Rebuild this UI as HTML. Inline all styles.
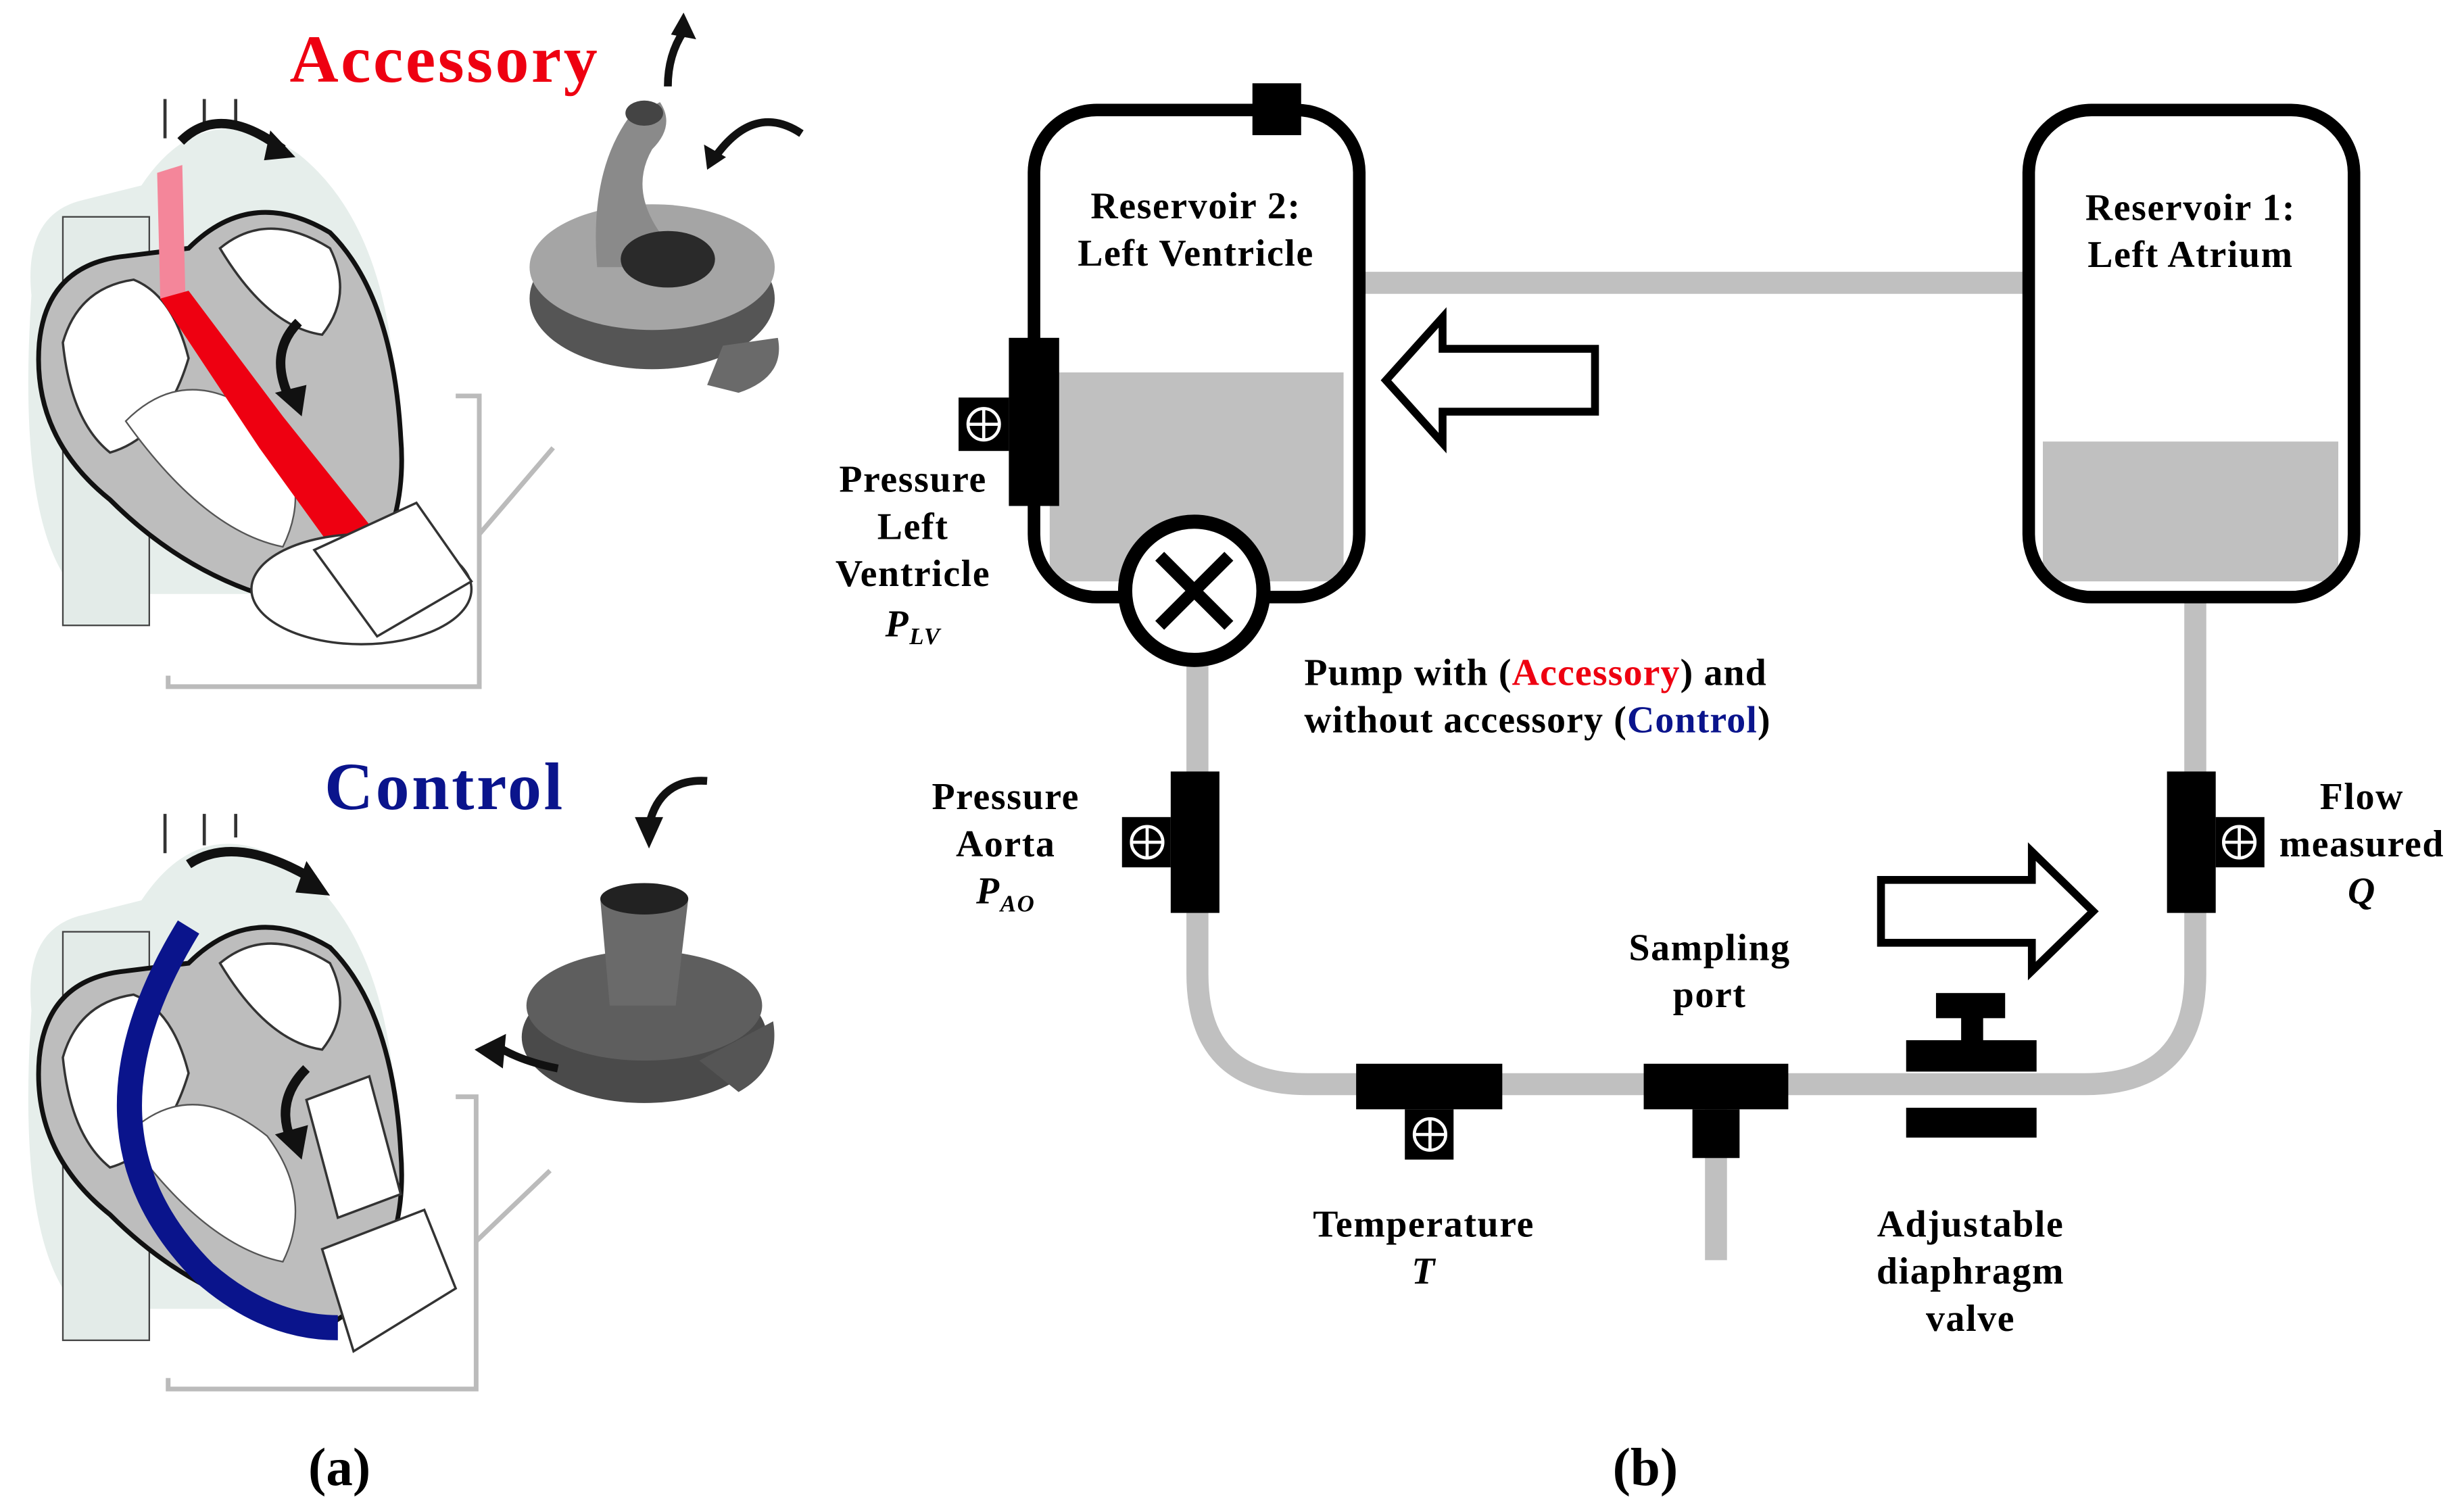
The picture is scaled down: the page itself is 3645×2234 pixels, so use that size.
<!DOCTYPE html>
<html><head><meta charset="utf-8"><style>
html,body{margin:0;padding:0;background:#fff;}
svg{display:block;}
text{font-family:"Liberation Serif",serif;font-weight:bold;}
</style></head><body>
<svg width="3645" height="2234" viewBox="0 0 1568 961" xmlns="http://www.w3.org/2000/svg">
<defs>
<g id="heart">
  <path d="M10 110 Q5 60 40 50 L80 40 Q120 -20 180 20 Q230 60 240 150 Q250 250 200 300 L40 300 Q0 260 10 110Z" fill="#e6eeeb"/>
  <rect x="30" y="60" width="55" height="260" fill="#e3ebe8" stroke="#444" stroke-width="1"/>
  <path d="M15 140 Q20 90 70 85 L110 80 Q150 40 200 70 Q240 110 245 200 Q250 260 215 300 L200 310 Q120 300 60 240 Q10 200 15 140Z" fill="#bdbdbd" stroke="#111" stroke-width="3"/>
  <path d="M30 140 Q40 105 75 100 Q100 110 110 150 Q95 200 60 210 Q35 190 30 140Z" fill="#fff" stroke="#333" stroke-width="1.5"/>
  <path d="M70 190 Q110 150 160 190 Q190 230 170 270 Q120 260 70 190Z" fill="#fff" stroke="#555" stroke-width="1"/>
  <path d="M130 80 Q160 55 200 80 Q215 110 195 135 Q160 130 130 80Z" fill="#fff" stroke="#333" stroke-width="1.5"/>
  <path d="M95 10 L95 -15 M120 5 L120 -15 M140 0 L140 -15" stroke="#333" stroke-width="2" fill="none"/>
</g>
</defs>

<g transform="translate(10,78)"><use href="#heart"/></g>
<path d="M100 110 L116 105 L118 190 L102 190Z" fill="#f4869a"/>
<path d="M102 190 L120 185 L180 265 L240 340 L212 350 L165 285 Z" fill="#ee0011"/>
<ellipse cx="230" cy="375" rx="70" ry="35" fill="#fff" stroke="#333" stroke-width="1.5"/>
<path d="M200 350 L265 320 L300 370 L240 405Z" fill="#fff" stroke="#333" stroke-width="1.5"/>
<path d="M115 90 Q140 65 180 95" fill="none" stroke="#111" stroke-width="6"/>
<path d="M172 83 L188 100 L168 102Z" fill="#111"/>
<path d="M190 205 Q170 225 185 255" fill="none" stroke="#111" stroke-width="6"/>
<path d="M175 250 L192 265 L195 245Z" fill="#111"/>
<path d="M107 430 L107 437 L305 437 L305 252 L290 252" fill="none" stroke="#bbb" stroke-width="3"/>
<line x1="305" y1="340" x2="352" y2="285" stroke="#bbb" stroke-width="3"/>
<text x="283" y="52" fill="#ee0011" font-size="43" letter-spacing="1.5" text-anchor="middle">Accessory</text>
<ellipse cx="415" cy="190" rx="78" ry="45" fill="#555"/>
<ellipse cx="415" cy="170" rx="78" ry="40" fill="#a5a5a5"/>
<path d="M460 220 L495 215 Q500 240 470 250 L450 245Z" fill="#6a6a6a"/>
<path d="M380 170 Q375 110 400 75 L420 65 Q430 80 415 95 Q395 130 440 170Z" fill="#8a8a8a"/>
<ellipse cx="410" cy="72" rx="12" ry="8" fill="#444"/>
<ellipse cx="425" cy="165" rx="30" ry="18" fill="#2a2a2a"/>
<path d="M425 55 Q425 35 435 20" stroke="#111" stroke-width="5" fill="none"/>
<path d="M427 22 L435 8 L443 25Z" fill="#111"/>
<path d="M510 85 Q480 65 455 100" stroke="#111" stroke-width="5" fill="none"/>
<path d="M448 92 L450 108 L462 100Z" fill="#111"/>

<g transform="translate(10,533)"><use href="#heart"/></g>
<path d="M120 590 Q40 720 130 810 Q170 845 215 845" fill="none" stroke="#0a148c" stroke-width="16"/>
<path d="M205 795 L270 770 L290 820 L225 860Z" fill="#fff" stroke="#333" stroke-width="1.5"/>
<path d="M195 700 L235 685 L255 760 L215 775Z" fill="#fff" stroke="#333" stroke-width="1.5"/>
<path d="M120 550 Q150 530 200 560" fill="none" stroke="#111" stroke-width="6"/>
<path d="M195 548 L210 570 L188 568Z" fill="#111"/>
<path d="M195 680 Q175 700 185 725" fill="none" stroke="#111" stroke-width="6"/>
<path d="M175 722 L192 738 L196 716Z" fill="#111"/>
<path d="M107 877 L107 884 L303 884 L303 698 L290 698" fill="none" stroke="#bbb" stroke-width="3"/>
<line x1="303" y1="790" x2="350" y2="745" stroke="#bbb" stroke-width="3"/>
<text x="283" y="515" fill="#0a148c" font-size="43" letter-spacing="1.5" text-anchor="middle">Control</text>
<ellipse cx="410" cy="660" rx="78" ry="42" fill="#4a4a4a"/>
<ellipse cx="410" cy="640" rx="75" ry="35" fill="#5e5e5e"/>
<path d="M445 675 L492 650 Q497 680 470 695Z" fill="#555"/>
<path d="M382 572 L438 572 L430 640 L388 640Z" fill="#6a6a6a"/>
<ellipse cx="410" cy="572" rx="28" ry="10" fill="#222"/>
<path d="M450 497 Q420 495 413 525" stroke="#111" stroke-width="5" fill="none"/>
<path d="M404 520 L413 540 L422 520Z" fill="#111"/>
<path d="M355 680 Q330 675 315 665" stroke="#111" stroke-width="5" fill="none"/>
<path d="M322 658 L302 668 L320 680Z" fill="#111"/>

<text x="216" y="945" font-size="34" text-anchor="middle">(a)</text>
<text x="1047" y="945" font-size="34" text-anchor="middle">(b)</text>

<g stroke="#c0c0c0" stroke-width="14" fill="none">
  <line x1="866" y1="180" x2="1291" y2="180"/>
  <path d="M762 415 L762 620 Q762 690 832 690 L1327 690 Q1397 690 1397 620 L1397 380"/>
  <line x1="1092" y1="705" x2="1092" y2="802"/>
</g>
<rect x="668" y="237" width="187" height="133" fill="#c0c0c0"/>
<rect x="658" y="70" width="207" height="310" rx="40" fill="none" stroke="#000" stroke-width="8"/>
<rect x="797" y="53" width="31" height="33" fill="#000"/>
<rect x="642" y="215" width="32" height="107" fill="#000"/>
<rect x="610" y="253" width="32" height="34" fill="#000"/>
<rect x="1300" y="281" width="188" height="89" fill="#c0c0c0"/>
<rect x="1291" y="70" width="207" height="310" rx="40" fill="none" stroke="#000" stroke-width="8"/>
<circle cx="760" cy="376" r="44" fill="#fff" stroke="#000" stroke-width="9"/>
<path d="M738 354 L782 398 M782 354 L738 398" stroke="#000" stroke-width="8"/>
<rect x="745" y="491" width="31" height="90" fill="#000"/>
<rect x="714" y="520" width="31" height="32" fill="#000"/>
<rect x="1379" y="491" width="31" height="90" fill="#000"/>
<rect x="1410" y="520" width="31" height="32" fill="#000"/>
<rect x="863" y="677" width="93" height="29" fill="#000"/>
<rect x="894" y="706" width="31" height="32" fill="#000"/>
<rect x="1046" y="677" width="92" height="29" fill="#000"/>
<rect x="1077" y="706" width="30" height="31" fill="#000"/>
<rect x="1232" y="632" width="44" height="16" fill="#000"/>
<rect x="1248" y="647" width="14" height="16" fill="#000"/>
<rect x="1213" y="662" width="83" height="20" fill="#000"/>
<rect x="1213" y="705" width="83" height="19" fill="#000"/>
<g stroke="#fff" stroke-width="2" fill="none">
  <circle cx="626" cy="270" r="10"/><path d="M616 270 H636 M626 260 V280"/>
  <circle cx="730" cy="536" r="10"/><path d="M720 536 H740 M730 526 V546"/>
  <circle cx="1425" cy="536" r="10"/><path d="M1415 536 H1435 M1425 526 V546"/>
  <circle cx="910" cy="722" r="10"/><path d="M900 722 H920 M910 712 V732"/>
</g>
<path d="M1015 222 L918 222 L918 202 L882 242 L918 282 L918 262 L1015 262Z" fill="#fff" stroke="#000" stroke-width="5"/>
<path d="M1197 560 L1293 560 L1293 542 L1332 580 L1293 618 L1293 600 L1197 600Z" fill="#fff" stroke="#000" stroke-width="5"/>

<g font-size="24" letter-spacing="0.7" text-anchor="middle" fill="#000">
  <text x="761" y="139">Reservoir 2:</text>
  <text x="761" y="169">Left Ventricle</text>
  <text x="1394" y="140">Reservoir 1:</text>
  <text x="1394" y="170">Left Atrium</text>
  <text x="581" y="313">Pressure</text>
  <text x="581" y="343">Left</text>
  <text x="581" y="373">Ventricle</text>
  <text x="581" y="405" font-style="italic">P<tspan font-size="15" dy="5">LV</tspan></text>
  <text x="640" y="515">Pressure</text>
  <text x="640" y="545">Aorta</text>
  <text x="640" y="575" font-style="italic">P<tspan font-size="15" dy="5">AO</tspan></text>
  <text x="1503" y="515">Flow</text>
  <text x="1503" y="545">measured</text>
  <text x="1503" y="575" font-style="italic">Q</text>
  <text x="1088" y="611">Sampling</text>
  <text x="1088" y="641">port</text>
  <text x="906" y="787">Temperature</text>
  <text x="906" y="817" font-style="italic">T</text>
  <text x="1254" y="787">Adjustable</text>
  <text x="1254" y="817">diaphragm</text>
  <text x="1254" y="847">valve</text>
</g>
<g font-size="24" letter-spacing="0.5" fill="#000">
  <text x="830" y="436">Pump with (<tspan fill="#ee0011">Accessory</tspan>) and</text>
  <text x="830" y="466">without accessory (<tspan fill="#0a148c">Control</tspan>)</text>
</g>
</svg>
</body></html>
